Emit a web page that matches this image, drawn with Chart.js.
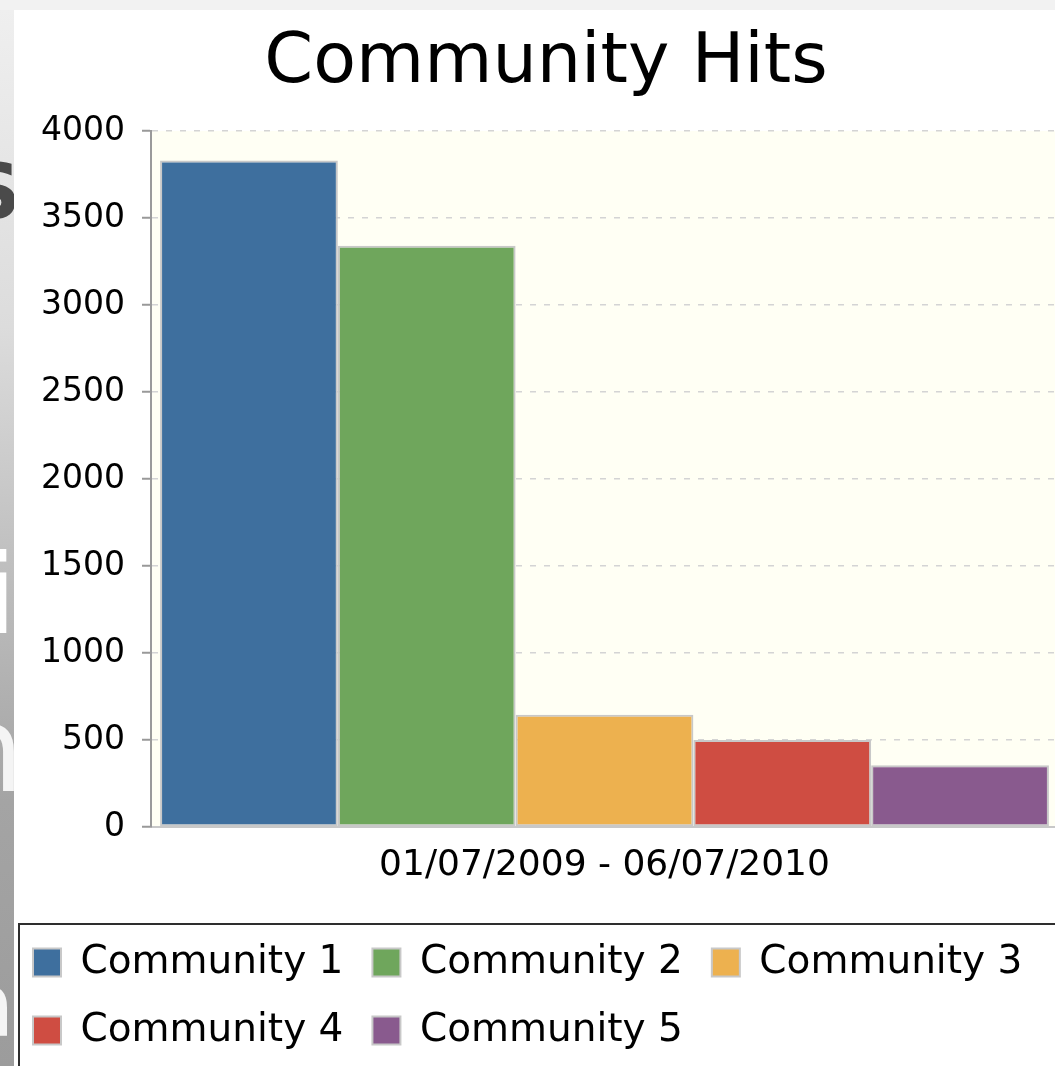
<!DOCTYPE html>
<html>
<head>
<meta charset="utf-8">
<script src="https://cdn.jsdelivr.net/npm/chart.js@4"></script>
<style>
  body { margin: 0; background: #f2f2f2; overflow: hidden; width: 1055px; height: 1066px; }
  #panel { position: absolute; left: 14px; top: 10px; width: 1041px; height: 1056px; background: #fff; }
  #chart { position: absolute; left: 0; top: 10px; }
  #strip {
    position: absolute; left: 0; top: 10px; width: 14px; height: 1056px; overflow: hidden; z-index: 2;
    background: linear-gradient(to bottom, #efefef 0%, #dcdcdc 30%, #bcbcbc 55%, #a4a4a4 75%, #9c9c9c 100%);
    font-family: 'DejaVu Sans', sans-serif;
  }
  #strip span { position: absolute; line-height: 1; }
</style>
</head>
<body>
<div id="panel"></div>
<canvas id="chart" width="1100" height="1070"></canvas>
<div id="strip">
  <span style="left:-34px; top:144px; font-size:76px; font-weight:bold; color:#4a4a4a;">S</span>
  <span style="left:-14px; top:530px; font-size:110px; color:#fff;">i</span>
  <span style="left:-52px; top:680px; font-size:120px; color:#f4f4f4;">n</span>
  <span style="left:-40px; top:950px; font-size:90px; color:#f4f4f4;">a</span>
</div>
<script>
// chart data
const categories = ["01/07/2009 - 06/07/2010"];
const communities = ["Community 1", "Community 2", "Community 3", "Community 4", "Community 5"];
const hits = [3830, 3340, 645, 500, 355];
const barColors = ["#3e6f9e", "#6fa65c", "#edb14f", "#cf4d42", "#895a8e"];

const FONT = "'DejaVu Sans', sans-serif";

//fill the plot area and frame the legend
const plotBackground = {
  id: "plotBackground",
  beforeDraw(chart) {
    const { ctx, chartArea } = chart;
    ctx.save();
    ctx.fillStyle = "#fffff4";
    ctx.fillRect(chartArea.left, chartArea.top, chartArea.right - chartArea.left, chartArea.bottom - chartArea.top);
    ctx.restore();
  },
};

const legendFrame = {
  id: "legendFrame",
  afterDraw(chart) {
    const { ctx } = chart;
    const lg = chart.legend;
    ctx.save();
    ctx.strokeStyle = "#2e2e2e";
    ctx.lineWidth = 2;
    ctx.strokeRect(19, lg.top + 10, chart.width, chart.height);
    ctx.restore();
  },
};

const datasets = communities.map((name, i) => ({
  label: name,
  data: [hits[i]],
  backgroundColor: barColors[i],
  borderColor: "#c8c8c8",
  borderWidth: 2,
  borderSkipped: false,
  categoryPercentage: 0.98,
  barPercentage: 1.0,
}));

Chart.defaults.color = "#000";
Chart.defaults.font.family = FONT;

new Chart(document.getElementById("chart"), {
  type: "bar",
  data: { labels: categories, datasets },
  options: {
    responsive: false,
    animation: false,
    devicePixelRatio: 1,
    layout: { padding: { left: 4, right: 12, top: 0, bottom: 20 } },
    plugins: {
      title: {
        display: true,
        text: "Community Hits",
        font: { size: 70, weight: "normal" },
        color: "#000",
        padding: { top: 12, bottom: 25 },
      },
      legend: {
        position: "bottom",
        align: "start",
        labels: {
          font: { size: 39 },
          color: "#000",
          boxWidth: 28,
          boxHeight: 28,
          padding: 29,
        },
      },
      tooltip: { enabled: false },
    },
    scales: {
      x: {
        grid: { display: false },
        border: { display: true, color: "#c8c8c8", width: 2 },
        ticks: { font: { size: 36 }, color: "#000", padding: 9 },
        afterFit(scale) {
          scale.height = 87;
        },
      },
      y: {
        min: 0,
        max: 4000,
        ticks: {
          stepSize: 500,
          font: { size: 33 },
          color: "#000",
          padding: 17,
          callback: (value) => String(value),
        },
        grid: {
          color: "#d4d4d4",
          lineWidth: 1.5,
          tickLength: 9,
          tickColor: "#999",
          tickWidth: 2,
        },
        border: { display: true, color: "#9a9a9a", width: 2, dash: [6, 8] },
        afterFit(scale) {
          scale.width = 147;
        },
      },
      y2: {
        position: "right",
        display: true,
        grid: { display: false },
        border: { display: false },
        ticks: { display: false },
        afterFit(scale) {
          scale.width = 30;
        },
      },
    },
  },
  plugins: [plotBackground, legendFrame],
});
</script>
</body>
</html>
